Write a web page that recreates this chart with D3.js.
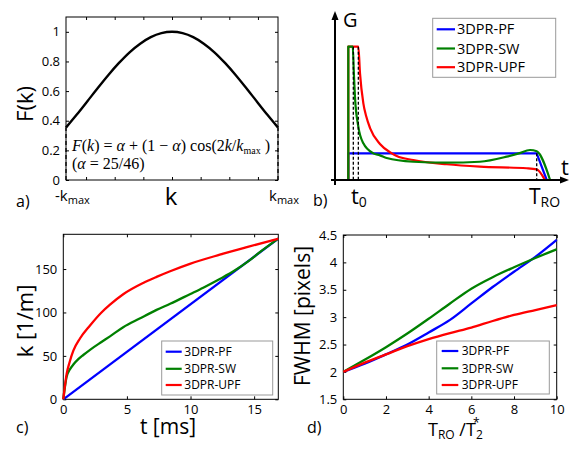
<!DOCTYPE html>
<html>
<head>
<meta charset="utf-8">
<script src="https://cdn.jsdelivr.net/npm/d3@7"></script>
<style>
  body { margin: 0; background: #fff; }
  svg { display: block; font-family: "Open Sans", sans-serif; }
  .tick text { font-size: 13px; fill: #000; font-family: "Open Sans", sans-serif; }
  .tick line { stroke: #000; }
</style>
</head>
<body>
<svg id="fig" width="586" height="449"></svg>
<script>
// ---- data ----
// a) apodisation F(k), k in 1/m (kmax = 185)
var aK = [-185, -166.5, -148, -129.5, -111, -92.5, -74, -55.5, -37, -18.5, 0, 18.5, 37, 55.5, 74, 92.5, 111, 129.5, 148, 166.5, 185];
var aF = [0.354, 0.44, 0.53, 0.621, 0.709, 0.79, 0.862, 0.92, 0.964, 0.991, 1, 0.991, 0.964, 0.92, 0.862, 0.79, 0.709, 0.621, 0.53, 0.44, 0.354];
var aXTicks = [-150, -100, -50, 0, 50, 100, 150];
var aYTicks = [0, 0.2, 0.4, 0.6, 0.8, 1];

// b) gradient waveforms [t (ms), G (rel.)]
var bPF = [[0, 0], [0, 0.2], [16.9, 0.2], [17.8, 0]];
var bSW = [[0, 0], [0, 1], [0.4, 1], [0.5, 0.8], [0.6, 0.62], [0.9, 0.4], [1.35, 0.275], [2.24, 0.2], [2.84, 0.185], [3.44, 0.165],
           [5.83, 0.137], [8.8, 0.13], [11.8, 0.137], [14.2, 0.175], [15.3, 0.2], [16.3, 0.225], [16.9, 0.215], [18.1, 0]];
var bUPF = [[0, 0], [0, 1], [0.9, 1], [1.05, 0.8], [1.35, 0.575], [1.6, 0.48], [1.95, 0.39], [2.84, 0.27], [3.9, 0.2], [4.34, 0.18],
            [5.83, 0.15], [8.83, 0.118], [11.8, 0.1], [16, 0.088], [16.9, 0.08], [17.64, 0]];
var bT0 = [0.45, 0.9];
var bTro = 16.9;

// c) k-space trajectories
var cPF_t = [0, 16.9];
var cPF_k = [0, 185];
var cSW_t = [0, 0.26, 0.5, 0.79, 1.2, 1.57, 2.1, 3, 3.67, 4.71, 6, 7.33, 8.4, 9.95, 11, 12.3, 13.5, 14.5, 15.5, 16.9];
var cSW_k = [0, 26, 34, 40, 46.5, 51, 57, 66, 72.5, 83, 93, 103, 110, 121, 128.5, 138.5, 148.5, 158.5, 170, 185];
var cUPF_t = [0, 0.26, 0.5, 0.79, 1.31, 2.1, 3, 3.67, 4.71, 6.28, 7.33, 8.4, 9.95, 12.3, 14.5, 16.9];
var cUPF_k = [0, 29, 43, 56, 70, 85, 100, 109, 121, 134, 141, 147.5, 156, 166.5, 175.5, 185];
var cXTicks = [0, 5, 10, 15];
var cYTicks = [0, 50, 100, 150];

// d) FWHM vs TRO/T2*
var dX = [0, 1, 2, 3, 4, 5, 6, 7, 8, 9, 10];
var dPF = [2, 2.15, 2.32, 2.5, 2.72, 2.95, 3.25, 3.55, 3.83, 4.1, 4.41];
var dSW = [2, 2.22, 2.45, 2.7, 2.97, 3.25, 3.52, 3.73, 3.91, 4.08, 4.24];
var dUPF = [2, 2.17, 2.32, 2.47, 2.6, 2.71, 2.81, 2.93, 3.04, 3.13, 3.22];
var dXTicks = [0, 2, 4, 6, 8, 10];
var dYTicks = [1.5, 2, 2.5, 3, 3.5, 4, 4.5];

var names = ["3DPR-PF", "3DPR-SW", "3DPR-UPF"];
var colors = ["#0000ff", "#008000", "#ff0000"];

var svg = d3.select("#fig");

function zip(a, b) { return a.map(function (v, i) { return [v, b[i]]; }); }

// matlab-like frame with inward ticks on all four sides
function frame(g, x, y, xt, yt, xfmt, yfmt) {
  var x0 = x.range()[0], x1 = x.range()[1], y0 = y.range()[0], y1 = y.range()[1];
  g.append("g").attr("transform", "translate(0," + y0 + ")")
    .call(d3.axisBottom(x).tickValues(xt).tickSizeInner(-3).tickSizeOuter(0).tickPadding(5.5).tickFormat(xfmt));
  g.append("g").attr("transform", "translate(0," + y1 + ")")
    .call(d3.axisTop(x).tickValues(xt).tickSizeInner(-3).tickSizeOuter(0).tickFormat(""));
  g.append("g").attr("transform", "translate(" + x0 + ",0)")
    .call(d3.axisLeft(y).tickValues(yt).tickSizeInner(-3).tickSizeOuter(0).tickPadding(6).tickFormat(yfmt));
  g.append("g").attr("transform", "translate(" + x1 + ",0)")
    .call(d3.axisRight(y).tickValues(yt).tickSizeInner(-3).tickSizeOuter(0).tickFormat(""));
  g.selectAll(".domain").remove();
  g.append("rect").attr("x", x0).attr("y", y1).attr("width", x1 - x0).attr("height", y0 - y1)
    .attr("fill", "none").attr("stroke", "#000").attr("stroke-width", 1);
}

function legend(g, bx, by, bw, bh, rowY, l0, l1, tx, fs) {
  g.append("rect").attr("x", bx).attr("y", by).attr("width", bw).attr("height", bh)
    .attr("fill", "#fff").attr("stroke", "#999").attr("stroke-width", 1);
  names.forEach(function (n, i) {
    g.append("line").attr("x1", l0).attr("x2", l1).attr("y1", rowY[i]).attr("y2", rowY[i])
      .attr("stroke", colors[i]).attr("stroke-width", 2.2);
    g.append("text").attr("x", tx).attr("y", rowY[i]).attr("dy", "0.35em")
      .attr("font-size", fs).text(n);
  });
}

var mono = d3.line().curve(d3.curveMonotoneX);

// ---- a) ----
var ga = svg.append("g");
var xa = d3.scaleLinear().domain([-185, 185]).range([66, 278]);
var ya = d3.scaleLinear().domain([0, 1.1]).range([180, 17]);
frame(ga, xa, ya, aXTicks, aYTicks, function () { return ""; }, function (d) { return d; });
ga.append("path").attr("d", mono(zip(aK, aF).map(function (p) { return [xa(p[0]), ya(p[1])]; })))
  .attr("fill", "none").attr("stroke", "#000").attr("stroke-width", 2.4);
[aK[0], aK[aK.length - 1]].forEach(function (k) {
  ga.append("line").attr("x1", xa(k)).attr("x2", xa(k)).attr("y1", ya(0)).attr("y2", ya(aF[0]))
    .attr("stroke", "#000").attr("stroke-width", 1.3).attr("stroke-dasharray", "4,3");
});
var eq = ga.append("text").attr("x", 72).attr("y", 151)
  .attr("font-family", "Liberation Serif, serif").attr("font-size", 16);
eq.append("tspan").attr("font-style", "italic").text("F");
eq.append("tspan").text("(");
eq.append("tspan").attr("font-style", "italic").text("k");
eq.append("tspan").text(") = ");
eq.append("tspan").attr("font-style", "italic").text("α");
eq.append("tspan").text(" + (1 − ");
eq.append("tspan").attr("font-style", "italic").text("α");
eq.append("tspan").text(") cos(2");
eq.append("tspan").attr("font-style", "italic").text("k");
eq.append("tspan").text("/");
eq.append("tspan").attr("font-style", "italic").text("k");
eq.append("tspan").attr("font-size", 10).attr("dy", 3).text("max");
eq.append("tspan").attr("dy", -3).text(" )");
var eq2 = ga.append("text").attr("x", 72).attr("y", 169)
  .attr("font-family", "Liberation Serif, serif").attr("font-size", 16);
eq2.append("tspan").text("(");
eq2.append("tspan").attr("font-style", "italic").text("α");
eq2.append("tspan").text(" = 25/46)");

ga.append("text").attr("transform", "translate(33,104) rotate(-90)").attr("text-anchor", "middle")
  .attr("font-size", 22).text("F(k)");
var kl = ga.append("text").attr("x", 55).attr("y", 201).attr("font-size", 15);
kl.append("tspan").text("-k");
kl.append("tspan").attr("font-size", 11).attr("dy", 3).text("max");
ga.append("text").attr("x", 171).attr("y", 205).attr("text-anchor", "middle").attr("font-size", 24).text("k");
var kr = ga.append("text").attr("x", 269).attr("y", 201).attr("font-size", 15);
kr.append("tspan").text("k");
kr.append("tspan").attr("font-size", 11).attr("dy", 3).text("max");
ga.append("text").attr("x", 16).attr("y", 207).attr("font-size", 16).text("a)");

// ---- b) ----
var gb = svg.append("g");
var xb = d3.scaleLinear().domain([0, 16.9]).range([348.3, 536.7]);
var yb = d3.scaleLinear().domain([0, 1]).range([180, 46.7]);
var lin = d3.line();
function bpath(data, curve, i) {
  gb.append("path").attr("d", curve(data.map(function (p) { return [xb(p[0]), yb(p[1])]; })))
    .attr("fill", "none").attr("stroke", colors[i]).attr("stroke-width", 2.2).attr("stroke-linejoin", "round");
}
bpath(bPF, lin, 0);
bpath(bUPF, mono, 2);
bpath(bSW, mono, 1);
bT0.forEach(function (t) {
  gb.append("line").attr("x1", xb(t)).attr("x2", xb(t)).attr("y1", yb(1)).attr("y2", yb(0))
    .attr("stroke", "#000").attr("stroke-width", 1.3).attr("stroke-dasharray", "3,2");
});
gb.append("line").attr("x1", xb(bTro)).attr("x2", xb(bTro)).attr("y1", yb(0.2)).attr("y2", yb(0))
  .attr("stroke", "#000").attr("stroke-width", 1.3).attr("stroke-dasharray", "3,2");
// axes with arrows
gb.append("line").attr("x1", 335).attr("x2", 335).attr("y1", 185).attr("y2", 18).attr("stroke", "#000").attr("stroke-width", 2);
gb.append("path").attr("d", "M335,11L331.5,20L338.5,20Z").attr("fill", "#000");
gb.append("line").attr("x1", 331).attr("x2", 561).attr("y1", 180).attr("y2", 180).attr("stroke", "#000").attr("stroke-width", 2);
gb.append("path").attr("d", "M569,180L560,176.5L560,183.5Z").attr("fill", "#000");
gb.append("text").attr("x", 343).attr("y", 27).attr("font-size", 20).text("G");
gb.append("text").attr("x", 561).attr("y", 175).attr("font-size", 22).text("t");
var t0 = gb.append("text").attr("x", 351).attr("y", 204).attr("font-size", 22);
t0.append("tspan").text("t");
t0.append("tspan").attr("font-size", 14).attr("dy", 3).text("0");
var tro = gb.append("text").attr("x", 529).attr("y", 204).attr("font-size", 21);
tro.append("tspan").text("T");
tro.append("tspan").attr("font-size", 14).attr("dy", 3).text("RO");
gb.append("text").attr("x", 313).attr("y", 206).attr("font-size", 16).text("b)");
legend(gb, 432.7, 18.3, 123, 59, [29.3, 48.5, 67.2], 436.7, 455, 457, 14.5);

// ---- c) ----
var gc = svg.append("g");
var xc = d3.scaleLinear().domain([0, 16.9]).range([63.3, 278.3]);
var yc = d3.scaleLinear().domain([0, 190]).range([399.3, 234.3]);
frame(gc, xc, yc, cXTicks, cYTicks, function (d) { return d; }, function (d) { return d; });
[[cPF_t, cPF_k], [cSW_t, cSW_k], [cUPF_t, cUPF_k]].forEach(function (s, i) {
  gc.append("path").attr("d", mono(zip(s[0], s[1]).map(function (p) { return [xc(p[0]), yc(p[1])]; })))
    .attr("fill", "none").attr("stroke", colors[i]).attr("stroke-width", 2.3);
});
legend(gc, 161.7, 341, 111, 54, [351.7, 368.8, 385], 165.7, 181.7, 184.3, 12);
gc.append("text").attr("transform", "translate(33,321) rotate(-90)").attr("text-anchor", "middle")
  .attr("font-size", 22).text("k [1/m]");
gc.append("text").attr("x", 168).attr("y", 434).attr("text-anchor", "middle").attr("font-size", 21).text("t [ms]");
gc.append("text").attr("x", 16).attr("y", 433).attr("font-size", 16).text("c)");

// ---- d) ----
var gd = svg.append("g");
var xd = d3.scaleLinear().domain([0, 10]).range([343.3, 556.7]);
var yd = d3.scaleLinear().domain([1.5, 4.5]).range([399.3, 235]);
frame(gd, xd, yd, dXTicks, dYTicks, function (d) { return d; }, function (d) { return d; });
[dPF, dSW, dUPF].forEach(function (s, i) {
  gd.append("path").attr("d", mono(zip(dX, s).map(function (p) { return [xd(p[0]), yd(p[1])]; })))
    .attr("fill", "none").attr("stroke", colors[i]).attr("stroke-width", 2.3);
});
legend(gd, 436.7, 341, 112.6, 53, [351, 368.3, 385], 441.7, 458.3, 461.7, 12);
gd.append("text").attr("transform", "translate(310,316) rotate(-90)").attr("text-anchor", "middle")
  .attr("font-size", 21).text("FWHM [pixels]");
var xl = gd.append("text").attr("x", 428).attr("y", 436).attr("font-size", 18);
xl.append("tspan").text("T");
xl.append("tspan").attr("font-size", 12).attr("dy", 3).text("RO");
xl.append("tspan").attr("dy", -3).text(" /T");
xl.append("tspan").attr("font-size", 12).attr("dy", 3).text("2");
gd.append("text").attr("x", 473).attr("y", 427).attr("font-size", 12).text("*");
gd.append("text").attr("x", 307).attr("y", 433).attr("font-size", 16).text("d)");
</script>
</body>
</html>
